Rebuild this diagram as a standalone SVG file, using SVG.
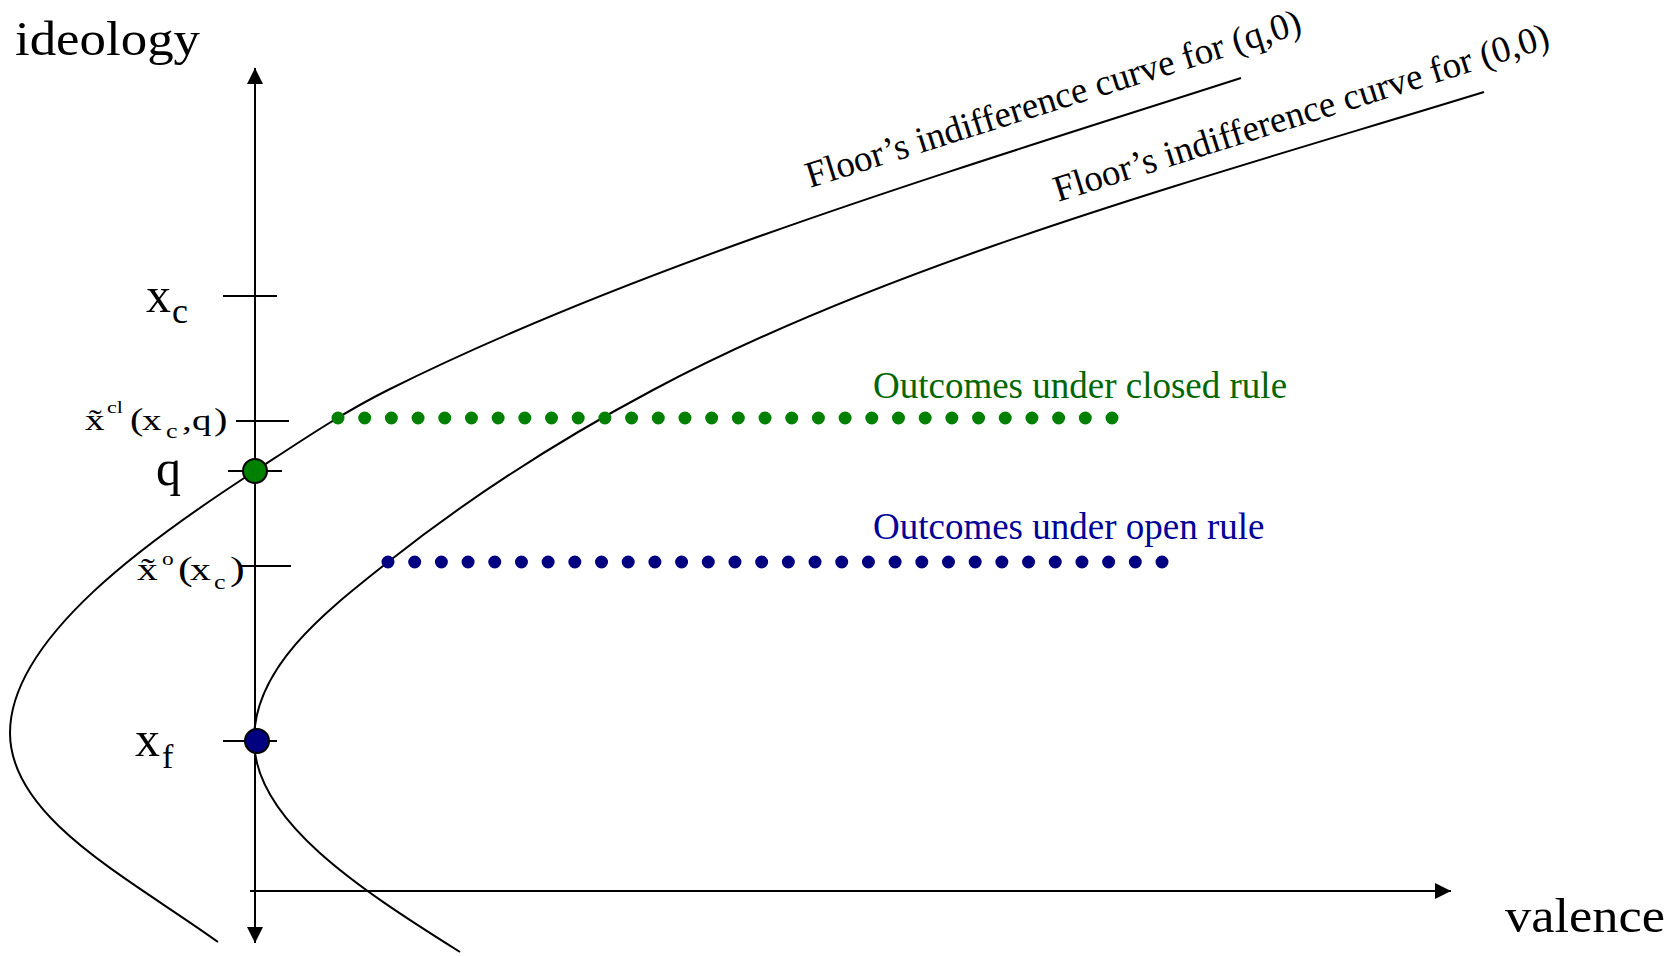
<svg xmlns="http://www.w3.org/2000/svg" width="1677" height="956" viewBox="0 0 1677 956">
<defs>
<style>
.t{font-family:"Liberation Serif","Times New Roman",serif;fill:#000}
.ax{stroke:#000;stroke-width:2;fill:none}
.tick{stroke:#000;stroke-width:2}
.curve{stroke:#000;stroke-width:2;fill:none}
.dotsg{stroke:#008000;stroke-width:13;stroke-linecap:round;stroke-dasharray:0 26.69;fill:none}
.dotsb{stroke:#000080;stroke-width:13;stroke-linecap:round;stroke-dasharray:0 26.69;fill:none}
.gtxt{font-family:"Liberation Serif","Times New Roman",serif;fill:#006600}
.btxt{font-family:"Liberation Serif","Times New Roman",serif;fill:#000099}
</style>
<marker id="arr" viewBox="0 0 16 16" markerWidth="16" markerHeight="16" refX="16" refY="8" orient="auto-start-reverse" markerUnits="userSpaceOnUse"><path d="M0,0 L16,8 L0,16 z" fill="#000"/></marker>
</defs>
<rect width="1677" height="956" fill="#fff"/>

<g id="connectors">
<line class="ax" x1="255" y1="68" x2="255" y2="943" marker-start="url(#arr)" marker-end="url(#arr)"/>
<line class="ax" x1="250" y1="891" x2="1451" y2="891" marker-end="url(#arr)"/>
<path class="curve" d="M218,942 C129,878 10,818 10,733 C10,638 150,539 255,471 C298.5,442.6 341.5,413.2 388,390 C638,265 961,168 1241,78"/>
<path class="curve" d="M460,952 C358,888 254,820 254,740 C254,665 329.5,608.5 388,562 C470,497 561,439 653,390 C893,262 1204,178 1484,92"/>
</g>

<g id="ticks">
<line class="tick" x1="223" y1="296" x2="277" y2="296"/>
<line class="tick" x1="236" y1="421" x2="289" y2="421"/>
<line class="tick" x1="228" y1="471" x2="282" y2="471"/>
<line class="tick" x1="240" y1="566" x2="291" y2="566"/>
<line class="tick" x1="223" y1="741" x2="277" y2="741"/>
</g>

<g id="axis-labels">
<text class="t" x="15" y="55" font-size="48" textLength="185" lengthAdjust="spacingAndGlyphs">ideology</text>
<text class="t" x="1505" y="932" font-size="48" textLength="160" lengthAdjust="spacingAndGlyphs">valence</text>
</g>

<g id="label-xc">
<text class="t" x="146" y="312" font-size="50">x<tspan font-size="36" dx="1" dy="11">c</tspan></text>
</g>
<g id="label-xcl" transform="scale(1.3,1)">
<text class="t" x="65.4" y="430" font-size="30">x&#771;</text>
<text class="t" x="82.3" y="413" font-size="17">cl</text>
<text class="t" x="100" y="430" font-size="31">(</text>
<text class="t" x="109.2" y="430" font-size="30">x</text>
<text class="t" x="127.7" y="438" font-size="20">c</text>
<text class="t" x="140" y="430" font-size="30">,</text>
<text class="t" x="147.7" y="430" font-size="30">q</text>
<text class="t" x="164.6" y="430" font-size="31">)</text>
</g>
<g id="label-q">
<text class="t" x="156" y="485" font-size="50">q</text>
</g>
<g id="label-xo" transform="scale(1.3,1)">
<text class="t" x="105.4" y="580" font-size="32">x&#771;</text>
<text class="t" x="124.6" y="565" font-size="18">o</text>
<text class="t" x="136.9" y="580" font-size="34">(</text>
<text class="t" x="146.2" y="580" font-size="32">x</text>
<text class="t" x="164.6" y="589" font-size="20">c</text>
<text class="t" x="176.9" y="580" font-size="34">)</text>
</g>
<g id="label-xf">
<text class="t" x="135" y="756" font-size="50">x<tspan font-size="34" dx="2" dy="12">f</tspan></text>
</g>

<g id="curve-label-q0">
<text class="t" font-size="37" transform="translate(810,188) rotate(-17.5)">Floor’s indifference curve for (q,0)</text>
</g>
<g id="curve-label-00">
<text class="t" font-size="37" transform="translate(1058,202) rotate(-17.5)">Floor’s indifference curve for (0,0)</text>
</g>

<g id="closed-rule-outcomes">
<line class="dotsg" x1="338" y1="418" x2="1113" y2="418"/>
<text class="gtxt" x="873" y="398" font-size="37">Outcomes under closed rule</text>
</g>
<g id="open-rule-outcomes">
<line class="dotsb" x1="388" y1="562" x2="1163" y2="562"/>
<text class="btxt" x="873" y="539" font-size="37">Outcomes under open rule</text>
</g>

<g id="node-q">
<circle cx="255" cy="471" r="12" fill="#008000" stroke="#000" stroke-width="2"/>
</g>
<g id="node-xf">
<circle cx="257" cy="741" r="12" fill="#000080" stroke="#000" stroke-width="2"/>
</g>
</svg>
